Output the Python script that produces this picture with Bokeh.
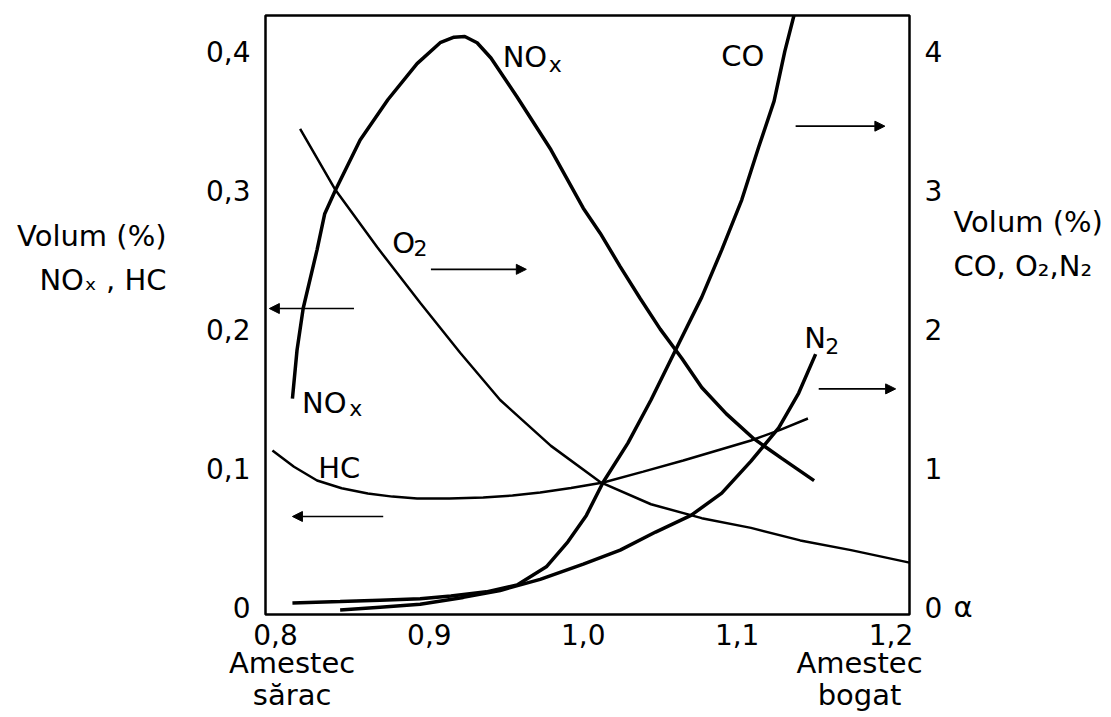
from bokeh.plotting import figure
from bokeh.models import (Range1d, LinearAxis, FixedTicker, CustomJSTickFormatter,
                          Label, Arrow, NormalHead)
from bokeh.embed import file_html
from bokeh.resources import INLINE

# ---------------- data ----------------
# left axis: NOx, HC  (Volum %)
alpha_nox = [0.811, 0.814, 0.818, 0.827, 0.832, 0.839, 0.855, 0.873, 0.892, 0.907,
             0.916, 0.923, 0.931, 0.940, 0.957, 0.979, 1.000, 1.011, 1.024, 1.037,
             1.050, 1.064, 1.077, 1.093, 1.111, 1.129, 1.150]
nox = [0.150, 0.185, 0.215, 0.257, 0.283, 0.300, 0.336, 0.365, 0.391, 0.406,
       0.410, 0.4105, 0.406, 0.395, 0.367, 0.329, 0.287, 0.269, 0.245, 0.222,
       0.200, 0.179, 0.158, 0.139, 0.121, 0.107, 0.091]

alpha_hc = [0.798, 0.812, 0.827, 0.843, 0.860, 0.876, 0.892, 0.913, 0.935, 0.954,
            0.972, 0.992, 1.013, 1.039, 1.065, 1.087, 1.109, 1.128, 1.146]
hc = [0.1127, 0.101, 0.0911, 0.0855, 0.0817, 0.0795, 0.0781, 0.0782, 0.0788, 0.0803,
      0.0824, 0.0857, 0.0896, 0.0975, 0.1055, 0.1127, 0.1199, 0.1275, 0.1357]

# right axis: CO, O2, N2 (Volum %)
alpha_o2 = [0.816, 0.839, 0.866, 0.894, 0.920, 0.946, 0.979, 1.011, 1.044, 1.077,
            1.109, 1.141, 1.174, 1.212]
o2 = [3.44, 3.00, 2.59, 2.19, 1.83, 1.49, 1.16, 0.90, 0.74, 0.64,
      0.57, 0.48, 0.41, 0.32]

alpha_co = [0.811, 0.842, 0.868, 0.894, 0.914, 0.937, 0.957, 0.976, 0.990, 1.002,
            1.013, 1.029, 1.044, 1.060, 1.077, 1.090, 1.103, 1.114, 1.124, 1.131, 1.137]
co = [0.03, 0.04, 0.05, 0.06, 0.08, 0.11, 0.16, 0.29, 0.47, 0.66,
      0.90, 1.18, 1.49, 1.85, 2.23, 2.57, 2.93, 3.31, 3.64, 4.00, 4.26]

alpha_n2 = [0.842, 0.868, 0.894, 0.922, 0.946, 0.972, 1.000, 1.024, 1.047, 1.070,
            1.090, 1.109, 1.127, 1.140, 1.151]
n2 = [-0.02, 0.00, 0.02, 0.07, 0.12, 0.20, 0.31, 0.41, 0.54, 0.66,
      0.82, 1.05, 1.29, 1.54, 1.82]

x_ticks = [0.8, 0.9, 1.0, 1.1, 1.2]
left_ticks = [0, 0.1, 0.2, 0.3, 0.4]
right_ticks = [0, 1, 2, 3, 4]

# outer texts (set as tick labels of extra axes)
bottom_text_pos = [0.8108, 1.1795]
bottom_texts = ["Amestec\nsărac", "Amestec\nbogat"]
left_title_pos = [0.251]
left_title = ["Volum (%)\nNOₓ , HC"]
right_title_pos = [0.0, 2.61]
right_title = ["α", "Volum (%)\nCO, O₂,N₂"]

FONT = "DejaVu Sans"

# ---------------- figure ----------------
p = figure(frame_width=644, frame_height=599, output_backend="svg", toolbar_location=None,
           x_range=Range1d(0.7935, 1.212), y_range=Range1d(-0.0053, 0.4256),
           min_border_left=265, min_border_right=200, min_border_top=15,
           min_border_bottom=100)
p.extra_y_ranges = {"right": Range1d(-0.053, 4.256)}
p.grid.grid_line_color = None
p.outline_line_color = "black"
p.outline_line_width = 2.5
p.background_fill_color = "white"
p.border_fill_color = "white"

right_axis = LinearAxis(y_range_name="right")
p.add_layout(right_axis, "right")

fmt1 = CustomJSTickFormatter(code="return tick == 0 ? '0' : tick.toFixed(1).replace('.', ',');")
fmt0 = CustomJSTickFormatter(code="return tick.toFixed(0);")


def style_axis(ax, ticks, fmt, stand, size="28px"):
    ax.ticker = FixedTicker(ticks=ticks)
    ax.formatter = fmt
    ax.axis_line_color = None
    ax.major_tick_line_color = None
    ax.minor_tick_line_color = None
    ax.major_tick_out = 0
    ax.major_tick_in = 0
    ax.minor_tick_out = 0
    ax.minor_tick_in = 0
    ax.major_label_standoff = stand
    ax.major_label_text_font = FONT
    ax.major_label_text_font_size = size
    ax.major_label_text_color = "black"


style_axis(p.xaxis[0], x_ticks, fmt1, 9)
style_axis(p.yaxis[0], left_ticks, fmt1, 15)
style_axis(right_axis, right_ticks, fmt0, 15)

# extra axes carrying the outer texts
bottom_ax = LinearAxis()
p.add_layout(bottom_ax, "below")
style_axis(bottom_ax, bottom_text_pos,
           CustomJSTickFormatter(args=dict(labels=bottom_texts), code="return labels[index];"),
           -2, "29px")
bottom_ax.major_label_text_line_height = 0.95

left_ax = LinearAxis()
p.add_layout(left_ax, "left")
style_axis(left_ax, left_title_pos,
           CustomJSTickFormatter(args=dict(labels=left_title), code="return labels[index];"),
           36, "29px")
left_ax.major_label_text_line_height = 1.3

right_ax2 = LinearAxis(y_range_name="right")
p.add_layout(right_ax2, "right")
style_axis(right_ax2, right_title_pos,
           CustomJSTickFormatter(args=dict(labels=right_title), code="return labels[index];"),
           8, "29px")
right_ax2.major_label_text_line_height = 1.3

# ---------------- curves ----------------
p.line(alpha_nox, nox, line_color="black", line_width=3.5)
p.line(alpha_hc, hc, line_color="black", line_width=2.5)
p.line(alpha_o2, o2, line_color="black", line_width=2.5, y_range_name="right")
p.line(alpha_co, co, line_color="black", line_width=3.5, y_range_name="right")
p.line(alpha_n2, n2, line_color="black", line_width=3.5, y_range_name="right")

# ---------------- arrows ----------------
arrows_left = [(0.851, 0.796, 0.2148), (0.870, 0.811, 0.0652)]
arrows_right = [(0.901, 0.963, 2.43), (1.138, 1.196, 3.46), (1.153, 1.203, 1.57)]
for xs, xe, yy in arrows_left:
    p.add_layout(Arrow(x_start=xs, x_end=xe, y_start=yy, y_end=yy, line_width=1.6,
                       end=NormalHead(size=10, fill_color="black", line_color="black")))
for xs, xe, yy in arrows_right:
    p.add_layout(Arrow(x_start=xs, x_end=xe, y_start=yy, y_end=yy, line_width=1.6,
                       y_range_name="right",
                       end=NormalHead(size=10, fill_color="black", line_color="black")))

# ---------------- curve labels (left-axis units, inside the frame) ----------------
def lab(x, y, t, size=29):
    p.add_layout(Label(x=x, y=y, text=t, text_font=FONT, text_font_size=f"{size}px",
                       text_align="left", text_baseline="alphabetic", text_color="black"))

SUB = 22
lab(0.9476, 0.3954, "NO"); lab(0.9776, 0.3904, "x", SUB)
lab(1.0896, 0.3968, "CO")
lab(0.8759, 0.2616, "O"); lab(0.8896, 0.2580, "2", SUB)
lab(0.8173, 0.1472, "NO"); lab(0.8479, 0.1429, "x", SUB)
lab(0.8277, 0.1004, "HC")
lab(1.1436, 0.1938, "N"); lab(1.1573, 0.1882, "2", SUB)

open("out.html", "w").write(file_html(p, INLINE))
